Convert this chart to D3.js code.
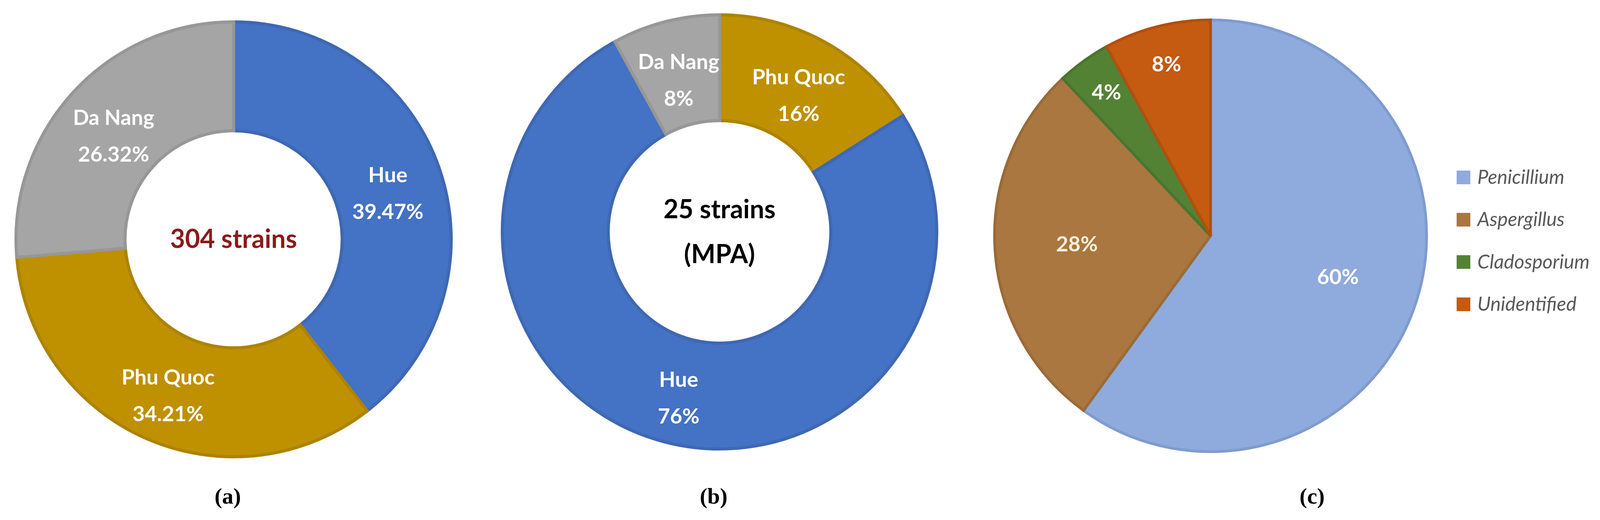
<!DOCTYPE html>
<html><head><meta charset="utf-8">
<script src="https://cdn.jsdelivr.net/npm/d3@7"></script>
<style>body{margin:0;background:#fff}</style></head>
<body><svg id="c" width="4173" height="1332"></svg>
<script>
const catsA=["Hue","Phu Quoc","Da Nang"], labA=["39.47%","34.21%","26.32%"], valsA=[39.47,34.21,26.32];
const catsB=["Phu Quoc","Hue","Da Nang"], labB=["16%","76%","8%"], valsB=[16,76,8];
const catsC=["Penicillium","Aspergillus","Cladosporium","Unidentified"], valsC=[60,28,4,8];
const regionColor={"Hue":"#4472C4","Phu Quoc":"#BF9000","Da Nang":"#A5A5A5"};
const regionStroke={"Hue":"#3f68b3","Phu Quoc":"#ad8300","Da Nang":"#979797"};
const genusColor=["#8FAADC","#A9773F","#548235","#C55A11"];
const genusStroke=["#7f9bcf","#9a6b37","#4a7530","#b34f0e"];
const svg=d3.select("#c");
const font="Lato, 'Open Sans', sans-serif";
const pie=d3.pie().sort(null).value(d=>d.v);

function donut(cx,cy,R,r,cats,vals,labs,center,ccol){
  const g=svg.append("g").attr("transform",`translate(${cx},${cy})`);
  const data=pie(cats.map((c,i)=>({c,v:vals[i],l:labs[i]})));
  const arc=d3.arc().innerRadius(r).outerRadius(R);
  g.selectAll("path").data(data).join("path").attr("d",arc)
    .attr("fill",d=>regionColor[d.data.c]).attr("stroke",d=>regionStroke[d.data.c]).attr("stroke-width",8);
  data.forEach(d=>{
    const [x,y]=arc.centroid(d);
    const t=g.append("text").attr("x",x).attr("y",y).attr("text-anchor","middle")
      .attr("fill","#fff").attr("font-family",font).attr("font-weight","bold").attr("font-size",54);
    t.append("tspan").attr("x",x).attr("dy",-10).text(d.data.c);
    t.append("tspan").attr("x",x).attr("dy",94).text(d.data.l);
  });
  const ct=g.append("text").attr("text-anchor","middle").attr("fill",ccol)
    .attr("font-family",font).attr("font-weight","bold").attr("font-size",66);
  center.forEach((s,i)=>ct.append("tspan").attr("x",0)
    .attr("y",(i-(center.length-1)/2)*115+22).text(s));
}
donut(598,613,557,278,catsA,valsA,labA,["304 strains"],"#8B1A1A");
donut(1842,594,556,285,catsB,valsB,labB,["25 strains","(MPA)"],"#000");

// pie c
{
  const cx=3099,cy=604,R=553;
  const g=svg.append("g").attr("transform",`translate(${cx},${cy})`);
  const data=pie(catsC.map((c,i)=>({c,v:valsC[i],i})));
  const arc=d3.arc().innerRadius(0).outerRadius(R);
  g.selectAll("path").data(data).join("path").attr("d",arc)
    .attr("fill",d=>genusColor[d.data.i]).attr("stroke",d=>genusStroke[d.data.i]).attr("stroke-width",7);
  data.forEach(d=>{
    const rr=d.data.v<10?0.82*R:0.62*R;
    const [x,y]=d3.arc().innerRadius(rr).outerRadius(rr).centroid(d);
    g.append("text").attr("x",x).attr("y",y+18).attr("text-anchor","middle")
      .attr("fill",d.data.i==1?"#fbf0e0":"#fff").attr("font-family",font).attr("font-weight","bold")
      .attr("font-size",54).text(d.data.v+"%");
  });
  const lg=svg.append("g");
  const ly=d3.scalePoint().domain(catsC).range([455,780]);
  catsC.forEach((c,i)=>{
    lg.append("rect").attr("x",3729).attr("y",ly(c)-18).attr("width",35).attr("height",35).attr("fill",genusColor[i]);
    lg.append("text").attr("x",3782).attr("y",ly(c)+16).attr("fill","#595959")
      .attr("font-family",font).attr("font-style","italic").attr("font-size",50).text(c);
  });
}
// captions
const caps=["(a)","(b)","(c)"], capX=[583,1827,3359];
caps.forEach((c,i)=>svg.append("text").attr("x",capX[i]).attr("y",1290).attr("text-anchor","middle")
  .attr("font-family","'Liberation Serif', serif").attr("font-weight","bold").attr("font-size",58).text(c));
</script></body></html>
